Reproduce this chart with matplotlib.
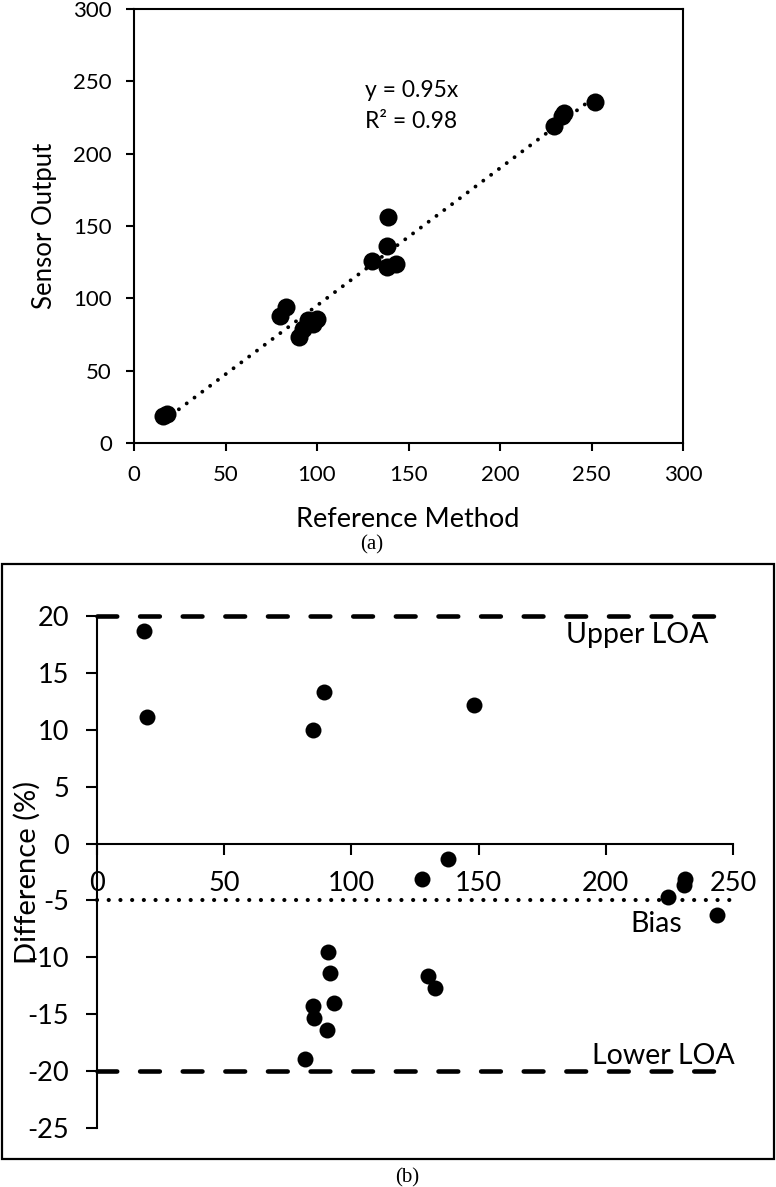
import numpy as np
import matplotlib
matplotlib.use("Agg")
import matplotlib.pyplot as plt
from matplotlib.patches import Rectangle

plt.rcParams['font.family'] = ['Lato', 'DejaVu Sans']
plt.rcParams['axes.unicode_minus'] = False

# (a) sensor output vs reference method
ref_a = [16, 18, 80, 83, 90, 92.5, 95, 98, 100, 130, 138, 139, 138, 143, 229.5, 235, 234, 252]
sensor_a = [19, 20, 88, 94, 73, 79, 85, 82, 86, 126, 136, 156, 122, 124, 219, 228, 226, 236]
slope = 0.95

# (b) Bland-Altman style differences
ref_b = [18.4, 19.8, 84.9, 89.3, 148.3, 137.9, 127.9, 224.4, 231.2, 230.8, 243.8,
         90.7, 91.7, 93.2, 84.9, 85.3, 90.5, 81.6, 130.0, 132.9]
diff_b = [18.7, 11.1, 10.0, 13.3, 12.2, -1.4, -3.1, -4.7, -3.1, -3.6, -6.3,
          -9.5, -11.4, -14.0, -14.3, -15.3, -16.4, -18.9, -11.6, -12.7]
upper_loa = 20
lower_loa = -20
bias = -5

W, H = 776, 1187
fig = plt.figure(figsize=(W / 100, H / 100), dpi=100)

def fx(px):
    return px / W

def fy(py):
    return 1 - py / H

# ---- panel (a)
ax1 = fig.add_axes([fx(134), fy(443), fx(683) - fx(134), fy(9) - fy(443)])
ax1.scatter(ref_a, sensor_a, s=13 ** 2, color='black', zorder=3, linewidths=0)
xs = np.array([min(ref_a), max(ref_a)])
ax1.plot(xs, slope * xs, color='black', lw=2.8, dashes=(0.01, 2.5),
         dash_capstyle='round', zorder=2)
ax1.set_xlim(0, 300)
ax1.set_ylim(0, 300)
ax1.set_xticks(range(0, 301, 50))
ax1.set_yticks(range(0, 301, 50))
ax1.tick_params(direction='out', length=6, width=1.5, labelsize=16, pad=10)
for sp in ax1.spines.values():
    sp.set_linewidth(1.5)
ax1.text(126, 244, 'y = 0.95x', fontsize=16.5, va='center', ha='left')
ax1.text(126, 222, 'R² = 0.98', fontsize=16.5, va='center', ha='left')
fig.text(fx(45), fy(226), 'Sensor Output', rotation=90, fontsize=18.5,
         ha='center', va='center')
fig.text(fx(408), fy(520), 'Reference Method', fontsize=19.5,
         ha='center', va='center')
fig.text(fx(372), fy(545), '(a)', fontsize=15, family='Liberation Serif',
         ha='center', va='center')

# ---- panel (b)
fig.add_artist(Rectangle((fx(2), fy(1159)), fx(774) - fx(2), fy(564) - fy(1159),
                         transform=fig.transFigure, fill=False,
                         edgecolor='black', lw=1.6))
ax2 = fig.add_axes([fx(97), fy(1128), fx(733) - fx(97), fy(616) - fy(1128)])
ax2.scatter(ref_b, diff_b, s=11.5 ** 2, color='black', zorder=3, linewidths=0)
ax2.plot([0, 248], [upper_loa, upper_loa], color='black', lw=3.3,
         dashes=(4.3, 5.0), dash_capstyle='round', clip_on=False, zorder=2)
ax2.plot([0, 248], [lower_loa, lower_loa], color='black', lw=3.3,
         dashes=(4.3, 5.0), dash_capstyle='round', clip_on=False, zorder=2)
ax2.plot([0, 250], [bias, bias], color='black', lw=3.0,
         dashes=(0.01, 2.8), dash_capstyle='round', clip_on=False, zorder=2)
ax2.set_xlim(0, 250)
ax2.set_ylim(-25, 20)
ax2.set_xticks(range(0, 251, 50))
ax2.set_yticks(range(-25, 21, 5))
ax2.spines['top'].set_visible(False)
ax2.spines['right'].set_visible(False)
ax2.spines['bottom'].set_position(('data', 0))
ax2.spines['left'].set_linewidth(1.5)
ax2.spines['bottom'].set_linewidth(1.5)
ax2.tick_params(direction='out', length=8, width=1.5, labelsize=19.5, pad=12)
ax2.patch.set_visible(False)
ax2.text(184.5, 18.3, 'Upper LOA', fontsize=20.5, va='center', ha='left')
ax2.text(209.5, -7.1, 'Bias', fontsize=20.5, va='center', ha='left')
ax2.text(194.5, -18.65, 'Lower LOA', fontsize=20.5, va='center', ha='left')
fig.text(fx(27), fy(872), 'Difference (%)', rotation=90, fontsize=21,
         ha='center', va='center')
fig.text(fx(407), fy(1178), '(b)', fontsize=15, family='Liberation Serif',
         ha='center', va='center')

fig.savefig('out.png', dpi=100)
